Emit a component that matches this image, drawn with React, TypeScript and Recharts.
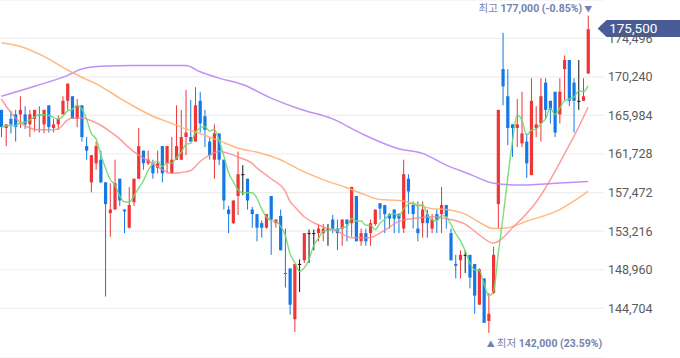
import React from 'react';
import { ComposedChart, Bar, Line, XAxis, YAxis, CartesianGrid, ReferenceDot } from 'recharts';

const opens = [
  166600,164600,165600,166100,166100,166100,165000,165600,166100,165000,
  167100,164600,165000,166100,167600,168100,165600,167100,162600,158600,
  160700,161100,158600,155200,155600,159000,155600,153600,156400,159000,
  162100,160700,160700,160200,162600,160700,159600,161100,161100,163600,
  163600,163100,167600,165900,163100,161100,164000,161100,155600,154100,
  157100,159500,159000,155600,155100,154100,153600,157100,154100,154900,
  148600,149100,143500,149600,150000,153000,153000,153000,153000,153500,
  154500,153500,153500,154500,154100,157100,152100,153000,153000,154000,
  156300,156100,155100,155600,155100,153500,159000,156100,153500,154100,
  155100,153500,155100,155100,156100,153000,149600,150000,150600,150600,
  149600,145100,148000,143300,146400,156200,171100,168100,165000,164600,
  162900,163100,159400,164600,165100,169600,167600,168600,166100,171100,
  172100,169600,167600,167600,170600,
];
const highs = [
  166600,165000,166500,166600,168100,167000,166600,166600,167000,166600,
  167100,165600,166000,168100,169500,168100,167800,167100,163600,161600,
  163100,162100,158600,158500,161100,159000,155600,158100,159000,164600,
  162100,162100,161100,162100,162600,162600,163600,167100,166600,168800,
  167700,169100,168600,166600,163500,165000,164000,161100,156000,156600,
  162000,160500,159000,155900,155100,154400,155100,157100,154500,155600,
  153500,149100,149600,150100,153000,153400,153400,154000,154000,154000,
  155000,154500,154500,154500,158100,157100,153500,153500,154500,155600,
  156300,156100,155200,155600,155200,161100,159500,156500,156500,156500,
  155600,155100,155600,158100,156100,153500,150600,151100,151100,150600,
  149600,149100,148000,146400,151500,166600,175100,171100,165000,167800,
  168600,164000,170100,167000,170100,170100,167600,168600,170100,172600,
  172100,170100,172100,170100,177000,
];
const lows = [
  163600,162600,164000,163100,164600,164500,163600,164200,164100,164000,
  164100,164100,164400,166100,166600,165600,164700,163100,161100,157500,
  160000,158500,146000,152600,155600,156000,153000,153500,156000,159000,
  160000,160500,159000,159600,158600,159600,159600,161100,161100,161600,
  163100,163100,164100,162500,161100,159000,160500,155600,153000,154000,
  155000,157200,155600,153600,152100,152500,153500,150600,153600,151100,
  147000,144000,142100,146500,149700,149700,151100,152100,152100,151600,
  153000,151100,151600,152100,152600,152100,151600,151600,151600,153800,
  154500,153000,153500,153000,153000,153000,155100,153500,152100,152500,
  152500,153000,153000,153000,153500,150000,148000,148000,148600,146900,
  144100,145100,143100,142000,146300,153500,167100,162700,161400,162500,
  162500,159100,159400,163600,163100,165600,165100,163600,165100,167600,
  167000,164100,166600,167600,170600,
];
const closes = [
  164700,165000,165000,164700,166600,165000,166100,166600,166000,166600,
  164700,165000,165600,167600,169500,165600,167100,163600,162100,161600,
  162600,158600,156200,155600,158500,156600,155400,156100,159000,162600,
  160700,161100,159600,160700,159600,162600,161100,162600,163600,164100,
  163100,167100,165100,164400,161600,164000,161100,156600,155100,156600,
  159500,159500,156600,155100,153600,153600,155100,154500,154500,151100,
  148500,145100,149600,149600,153000,153000,153000,153500,153500,153500,
  153500,153000,154500,154000,158100,152100,153000,152100,154100,155600,
  155700,155100,154600,154600,154600,159500,157600,155100,153000,155600,
  154100,154500,154500,156100,154800,150000,149400,150600,150600,148100,
  146100,149000,143100,144100,150600,166600,169200,164600,164600,165000,
  164000,160700,167600,165000,168100,166600,166600,164100,168600,172100,
  167600,167600,167600,168100,175500,
];

// moving-average lines (candle index -> value)
const ma20Idx = [0,2,4,6,8,10,12,14,15,17,19,21,23,25,27,29,32,34,36,38,40,42,44,46,48,50,53,54,57,60,61,62,64,67,71,74,78,80,81,84,87,91,94,98,101,104,106,108,110,113,115,120,122,124];
const ma20Val = [167800,166300,165200,164600,164400,164400,164500,165500,165700,165700,165400,164900,164200,163400,162400,161600,160700,160000,159600,159700,159900,160900,161600,162000,161800,161400,160700,160200,159000,157600,156500,155900,154800,153900,153200,152500,152500,153000,153300,154300,154600,154800,154600,154000,152800,151900,152500,153600,154600,156400,158000,162700,164700,166900];
const ma60Idx = [0,4,9,14,17,21,25,28,32,35,39,42,46,50,55,59,63,68,73,77,80,84,87,91,94,98,101,104,107,111,118,124];
const ma60Val = [174000,173600,172500,171000,170200,169200,167900,167000,165900,165300,164500,164000,163200,162400,161800,161100,160000,158900,158000,157200,156700,156600,156300,155700,155600,155100,154200,153500,153600,154300,155600,157600];
const ma120Idx = [0,7,14,17,21,28,35,39,42,46,51,57,63,70,76,84,89,94,99,104,110,114,117,124];
const ma120Val = [168100,169200,170400,171100,171400,171500,171500,171500,170800,170100,169400,167900,166700,165600,164000,162300,161800,160500,159500,158500,158300,158400,158500,158700];

const yTicks = [144704,148960,153216,157472,161728,165984,170240,174496];
const highLabel = { idx: 124, value: 177000, text: '177,000 (-0.85%)' };
const lowLabel = { idx: 103, value: 142000, text: '142,000 (23.59%)' };
const lastPrice = { idx: 124, value: 175500, text: '175,500' };

const pick = (idxs: number[], vals: number[], i: number) => {
  const k = idxs.indexOf(i);
  return k >= 0 ? vals[k] : null;
};

const data = opens.map((o, i) => {
  const from = Math.max(0, i - 4);
  const win = closes.slice(from, i + 1);
  return {
    idx: i,
    open: o,
    high: highs[i],
    low: lows[i],
    close: closes[i],
    range: [lows[i], highs[i]],
    ma5: win.reduce((a, b) => a + b, 0) / win.length,
    ma20: pick(ma20Idx, ma20Val, i),
    ma60: pick(ma60Idx, ma60Val, i),
    ma120: pick(ma120Idx, ma120Val, i),
  };
});

const RED = '#ef3535';
const BLUE = '#1478e6';

const Candle = (props: any) => {
  const { x, y, width, height, payload } = props;
  if (!payload) return null;
  const { open, close, high, low } = payload;
  const top = Math.min(y, y + height);
  const h = Math.abs(height);
  const cx = x + width / 2;
  const ppu = h / (high - low);
  const yOf = (v: number) => top + (high - v) * ppu;
  const color = close > open ? RED : close < open ? BLUE : '#111';
  const bTop = yOf(Math.max(open, close));
  const bBot = yOf(Math.min(open, close));
  const bh = Math.max(bBot - bTop, 1);
  return (
    <g>
      <line x1={cx} x2={cx} y1={top} y2={top + h} stroke={color} strokeWidth={1} />
      <rect x={cx - 1.6} y={bTop} width={3.2} height={bh} fill={color} />
    </g>
  );
};

const LABEL_FONT = "Roboto, 'Noto Sans CJK KR', sans-serif";

const HighMark = (p: any) => (
  <text x={p.cx + 4} y={p.cy - 4} textAnchor="end" fontFamily={LABEL_FONT} fontSize={10.5} fill="#7482ad">
    <tspan>최고 </tspan>
    <tspan fontWeight="bold">{highLabel.text}</tspan>
    <tspan fontSize={8}> ▼</tspan>
  </text>
);

const LowMark = (p: any) => (
  <text x={p.cx - 2} y={p.cy + 14.5} textAnchor="start" fontFamily={LABEL_FONT} fontSize={10.5} fill="#7482ad">
    <tspan fontSize={8}>▲ </tspan>
    <tspan>최저 </tspan>
    <tspan fontWeight="bold">{lowLabel.text}</tspan>
  </text>
);

const PriceTag = (p: any) => {
  const tip = p.cx + 9.5;
  const cy = p.cy - 0.8;
  return (
    <g>
      <polygon
        points={`${tip},${cy} ${tip + 9},${cy - 8.5} ${tip + 100},${cy - 8.5} ${tip + 100},${cy + 8.5} ${tip + 9},${cy + 8.5}`}
        fill="#4a5c95"
      />
      <text x={tip + 11.5} y={cy} dy="0.36em" fontFamily="Roboto, sans-serif" fontSize={13.5} fill="#ffffff">
        {lastPrice.text}
      </text>
    </g>
  );
};

export default function App() {
  return (
    <div style={{ position: 'absolute', left: -1, top: 0, width: 681, height: 358 }}>
      <ComposedChart width={681} height={358} data={data} margin={{ top: 0, right: 0, bottom: 0, left: 0 }}>
        <CartesianGrid vertical={false} stroke="#eeeeee" strokeWidth={1.2} />
        <XAxis dataKey="idx" hide padding={{ left: 0, right: 13.5 }} />
        <YAxis
          orientation="right"
          width={76}
          domain={[139220, 178722]}
          allowDataOverflow
          ticks={yTicks}
          interval={0}
          axisLine={false}
          tickLine={false}
          tickSize={0}
          tickMargin={4}
          tick={{ fontSize: 12.5, fill: '#5a5a5a', fontFamily: 'Roboto, sans-serif' }}
          tickFormatter={(v: number) => v.toLocaleString('en-US')}
        />
        <Bar dataKey="range" shape={Candle} isAnimationActive={false} />
        <Line type="monotone" dataKey="ma120" stroke="#b57cf6" strokeWidth={1.5} strokeOpacity={0.85} dot={false} activeDot={false} connectNulls isAnimationActive={false} />
        <Line type="monotone" dataKey="ma60" stroke="#ffae6b" strokeWidth={1.5} strokeOpacity={0.85} dot={false} activeDot={false} connectNulls isAnimationActive={false} />
        <Line type="monotone" dataKey="ma20" stroke="#ff8484" strokeWidth={1.5} strokeOpacity={0.8} dot={false} activeDot={false} connectNulls isAnimationActive={false} />
        <Line type="monotone" dataKey="ma5" stroke="#6fd86f" strokeWidth={1.4} strokeOpacity={0.9} dot={false} activeDot={false} isAnimationActive={false} />
        <ReferenceDot x={highLabel.idx} y={highLabel.value} r={0} shape={HighMark} ifOverflow="visible" />
        <ReferenceDot x={lowLabel.idx} y={lowLabel.value} r={0} shape={LowMark} ifOverflow="visible" />
        <ReferenceDot x={lastPrice.idx} y={lastPrice.value} r={0} shape={PriceTag} ifOverflow="visible" />
      </ComposedChart>
    </div>
  );
}
